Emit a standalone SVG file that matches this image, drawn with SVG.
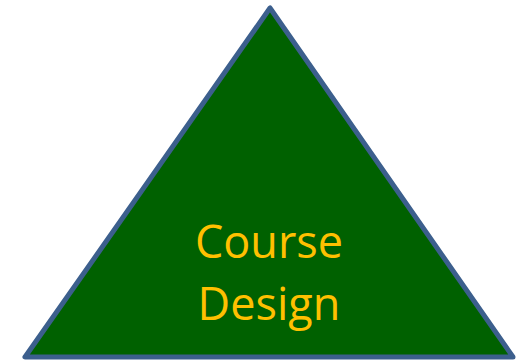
<svg xmlns="http://www.w3.org/2000/svg" width="517" height="363" viewBox="0 0 517 363">
<style>
.t{font-family:"Open Sans","Noto Sans",sans-serif;font-size:45px;fill:#FFC000;text-anchor:middle}
</style>
<rect width="517" height="363" fill="#ffffff"/>
<g id="triangle">
<polygon points="270,8 25,357 513,357" fill="#006100" stroke="#3C5F8D" stroke-width="5" stroke-linejoin="round"/>
<text class="t" x="269" y="258">Course</text>
<text class="t" x="269" y="320">Design</text>
</g>
<g id="connectors"/>
</svg>
